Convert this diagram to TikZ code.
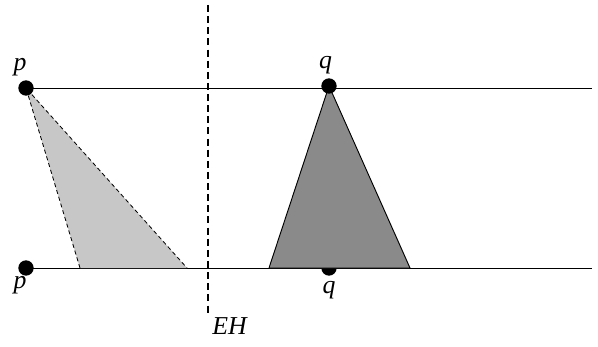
\documentclass[tikz,border=0pt]{standalone}
\usepackage{fontspec}
\setmainfont{Liberation Serif}
\usetikzlibrary{positioning}
\begin{document}
\begin{tikzpicture}[x=0.03cm,y=-0.03cm, every node/.style={font=\fontsize{22}{24}\selectfont\itshape}]
\tikzset{dotpt/.style={circle,fill=black,inner sep=0pt,minimum size=0.46cm}}
\useasboundingbox (0,0) rectangle (598,347);
% horizon and the two time slices
\draw[dash pattern=on 6pt off 3.5pt,line width=1.1pt] (208,5) coordinate (hztop) -- (208,315) coordinate (hzbot);
\node[anchor=north west,inner sep=1pt] (eh) at (211,316) {EH};
\node[dotpt] (pb) at (26,268) {};
\node[dotpt] (qb) at (329,268) {};
\coordinate (tr) at (592,88);
\coordinate (br) at (592,268);
\draw[line width=0.8pt] (26,88) -- (tr);
\draw[line width=0.8pt] (pb.center) -- (br);
% light cones
\fill[black!22] (26,88) -- (80,268) -- (187,268) -- cycle;
\draw[dash pattern=on 3.5pt off 2.5pt,line width=0.7pt] (80,268) -- (26,88) -- (187,268);
\draw[line width=0.8pt,fill=black!46] (329,86) -- (269,268) -- (410,268) -- cycle;
\node[dotpt] (pt) at (26,88) {};
\node[dotpt] (qt) at (329,86) {};
\node[above=0pt of pt,xshift=-5pt] (ptl) {p};
\node[above=0pt of qt,xshift=-3pt] (qtl) {q};
\node[below=-3pt of pb,xshift=-5pt] (pbl) {p};
\node[below=1pt of qb] (qbl) {q};
\end{tikzpicture}
\end{document}
